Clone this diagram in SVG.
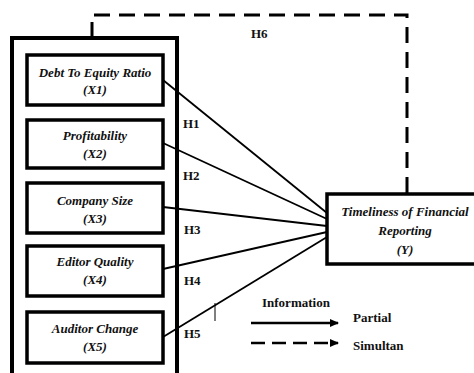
<svg xmlns="http://www.w3.org/2000/svg" width="474" height="373" viewBox="0 0 474 373">
<style>
.box{fill:#fff;stroke:#000;stroke-width:3.5}
.outer{fill:none;stroke:#000;stroke-width:4}
text{font-family:'Liberation Serif','Times New Roman','DejaVu Serif',serif;fill:#111;font-weight:bold}
.lbl{font-style:italic;font-size:13px;text-anchor:middle}
.h{font-size:13px}
.conn{stroke:#000;stroke-width:1.8;fill:none}
.dash{stroke:#000;stroke-width:3;fill:none;stroke-dasharray:16 9}
</style>
<defs>
<marker id="arr" markerWidth="10" markerHeight="10" refX="8" refY="5" orient="auto" markerUnits="userSpaceOnUse">
<path d="M0,1 L9,5 L0,9 Z" fill="#000"/>
</marker>
</defs>
<rect width="474" height="373" fill="#fff"/>
<g id="connectors">
<path class="dash" d="M92,38 L92,15 L407,15 L407,194"/>
<line class="conn" x1="163" y1="80" x2="327" y2="213"/>
<line class="conn" x1="163" y1="143" x2="327" y2="219"/>
<line class="conn" x1="163" y1="207" x2="327" y2="226"/>
<line class="conn" x1="163" y1="269" x2="327" y2="232"/>
<line class="conn" x1="163" y1="337" x2="327" y2="237"/>
<line x1="215" y1="303" x2="215" y2="321" stroke="#000" stroke-width="1"/>
</g>
<g id="group-x">
<rect class="outer" x="12" y="38" width="165" height="345"/>
</g>
<g id="x1">
<rect class="box" x="27" y="55" width="136" height="50"/>
<text class="lbl" x="95" y="77">Debt To Equity Ratio</text>
<text class="lbl" x="95" y="94">(X1)</text>
</g>
<g id="x2">
<rect class="box" x="27" y="120" width="136" height="48"/>
<text class="lbl" x="95" y="140">Profitability</text>
<text class="lbl" x="95" y="158">(X2)</text>
</g>
<g id="x3">
<rect class="box" x="27" y="183" width="136" height="50"/>
<text class="lbl" x="95" y="205">Company Size</text>
<text class="lbl" x="95" y="223">(X3)</text>
</g>
<g id="x4">
<rect class="box" x="27" y="246" width="136" height="50"/>
<text class="lbl" x="95" y="266">Editor Quality</text>
<text class="lbl" x="95" y="284">(X4)</text>
</g>
<g id="x5">
<rect class="box" x="27" y="312" width="136" height="51"/>
<text class="lbl" x="95" y="333">Auditor Change</text>
<text class="lbl" x="95" y="351">(X5)</text>
</g>
<g id="y">
<rect class="box" x="327" y="194" width="150" height="70"/>
<text class="lbl" x="405" y="216">Timeliness of Financial</text>
<text class="lbl" x="405" y="235">Reporting</text>
<text class="lbl" x="405" y="254">(Y)</text>
</g>
<g id="labels">
<text class="h" x="183" y="128">H1</text>
<text class="h" x="183" y="180">H2</text>
<text class="h" x="184" y="234">H3</text>
<text class="h" x="184" y="285">H4</text>
<text class="h" x="184" y="338">H5</text>
<text class="h" x="251" y="38">H6</text>
</g>
<g id="legend">
<text class="h" x="262" y="307">Information</text>
<line x1="251" y1="323" x2="338" y2="323" stroke="#000" stroke-width="2.5" marker-end="url(#arr)"/>
<text class="h" x="353" y="322">Partial</text>
<line x1="251" y1="343" x2="338" y2="343" stroke="#000" stroke-width="2.5" stroke-dasharray="14 7" marker-end="url(#arr)"/>
<text class="h" x="353" y="350">Simultan</text>
</g>
</svg>
